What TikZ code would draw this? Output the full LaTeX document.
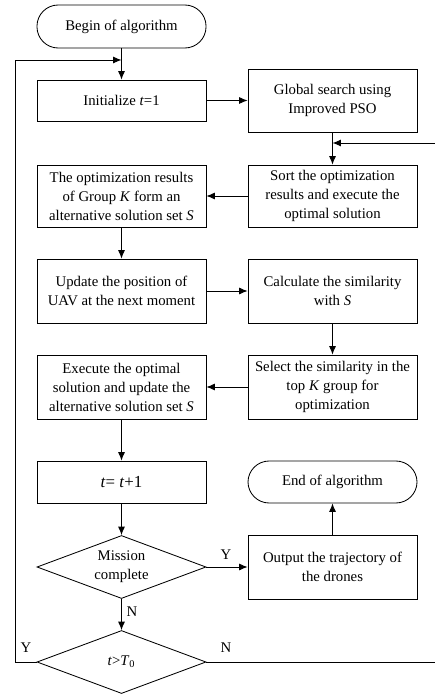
\documentclass[tikz,border=0pt]{standalone}
\usepackage{fontspec}
\setmainfont{Liberation Serif}
\usetikzlibrary{shapes.geometric,arrows.meta}

\tikzset{
  box/.style={draw, rectangle, minimum width=4.225cm, minimum height=1.55cm,
    align=center, inner sep=1pt},
  term/.style={draw, rectangle, rounded corners=0.53cm, minimum width=4.225cm,
    minimum height=1.075cm, align=center},
  test/.style={draw, diamond, aspect=2.7, minimum width=4.225cm,
    minimum height=1.575cm, align=center, inner sep=0pt},
  lbl/.style={inner sep=0pt}
}

\begin{document}
\begin{tikzpicture}[x=0.025cm, y=-0.025cm, line width=0.6pt,
    >={Latex[length=6pt,width=5pt]},
    font=\fontsize{10.5}{13.5}\selectfont]
  \useasboundingbox (0,0) rectangle (434,694);
  % left column
  \node[term] (begin) at (121.5,26.5) {Begin of algorithm};
  \node[box, minimum height=1.025cm] (init) at (121.5,100.5) {Initialize \textit{t}=1};
  \node[box] (group) at (121.5,196) {The optimization results\\of Group \textit{K} form an\\alternative solution set \textit{S}};
  \node[box, minimum height=1.6cm] (update) at (121.5,291) {Update the position of\\UAV at the next moment};
  \node[box, minimum height=1.6cm] (exec) at (121.5,387) {Execute the optimal\\solution and update the\\alternative solution set \textit{S}};
  \node[box, minimum height=1.05cm, font=\fontsize{12}{14}\selectfont] (inc) at (121.5,482) {\textit{t}= \textit{t}+1};
  \node[test] (mission) at (121.5,567) {Mission\\complete};
  \node[test] (check) at (121.5,662) {\textit{t}>\textit{T}\textsubscript{0}};
  % right column
  \node[box, minimum height=1.575cm] (global) at (332.5,100.5) {Global search using\\Improved PSO};
  \node[box] (sort) at (332.5,196) {Sort the optimization\\results and execute the\\optimal solution};
  \node[box, minimum height=1.6cm] (simil) at (332.5,291) {Calculate the similarity\\with \textit{S}};
  \node[box, minimum height=1.6cm] (select) at (332.5,387) {Select the similarity in the\\top \textit{K} group for\\optimization};
  \node[term, minimum height=1.05cm] (end) at (332.5,482) {End of algorithm};
  \node[box, minimum height=1.6cm] (output) at (332.5,567) {Output the trajectory of\\the drones};
  % loop corners
  \coordinate (lt) at (15,60);
  \coordinate (lj) at (121.5,60);
  \coordinate (rt) at (435,143);
  \coordinate (rj) at (332.5,143);
  % flow
  \draw [->] (begin) -- (init);
  \draw [->] (init) -- (global);
  \draw [->] (global) -- (sort);
  \draw [->] (sort) -- (group);
  \draw [->] (group) -- (update);
  \draw [->] (update) -- (simil);
  \draw [->] (simil) -- (select);
  \draw [->] (select) -- (exec);
  \draw [->] (exec) -- (inc);
  \draw [->] (inc) -- (mission);
  \draw [->] (mission) -- (output);
  \draw [->] (output) -- (end);
  \draw [->] (mission) -- (check);
  \draw [->] (check.west) -| (lt) -- (lj);
  \draw [->] (check.east) -| (rt) -- (rj);
  % branch labels
  \node[lbl] (y1) at (226,555) {Y};
  \node[lbl] (n1) at (132,612) {N};
  \node[lbl] (y2) at (26,648) {Y};
  \node[lbl] (n2) at (226,648) {N};
\end{tikzpicture}
\end{document}
